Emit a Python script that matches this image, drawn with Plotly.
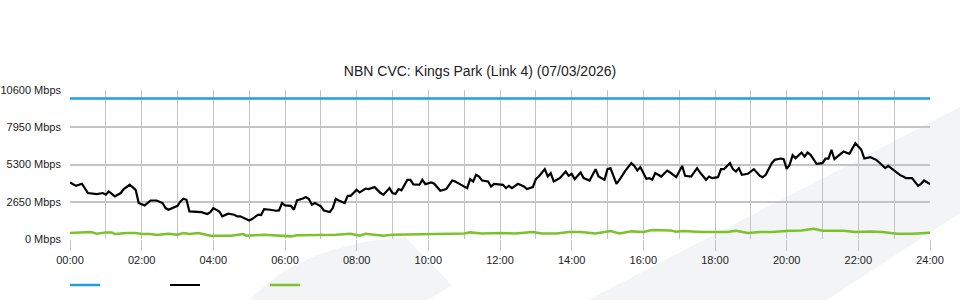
import plotly.graph_objects as go

# ---------------- data ----------------
title_text = "NBN CVC: Kings Park (Link 4) (07/03/2026)"

x_tick_hours = list(range(0, 25, 2))
x_tick_labels = ["00:00", "02:00", "04:00", "06:00", "08:00", "10:00", "12:00",
                 "14:00", "16:00", "18:00", "20:00", "22:00", "24:00"]
y_tick_values = [0, 2650, 5300, 7950, 10600]
y_tick_labels = ["0 Mbps", "2650 Mbps", "5300 Mbps", "7950 Mbps", "10600 Mbps"]

capacity_times = ["00:00", "24:00"]
capacity_values = [10000, 10000]

download_times = [
    "00:00", "00:10", "00:20", "00:30", "00:45", "00:55", "01:00", "01:05", "01:15", "01:25",
    "01:30", "01:40", "01:50", "01:55", "02:05", "02:10", "02:15", "02:25", "02:35", "02:40",
    "02:45", "03:00", "03:05", "03:10", "03:15", "03:20", "03:30", "03:40", "03:50", "03:55",
    "04:00", "04:10", "04:15", "04:25", "04:35", "04:40", "04:45", "04:55", "05:00", "05:05",
    "05:15", "05:20", "05:25", "05:35", "05:45", "05:50", "05:55", "06:00", "06:10", "06:15",
    "06:20", "06:30", "06:35", "06:40", "06:45", "06:50", "07:00", "07:05", "07:15", "07:20",
    "07:25", "07:30", "07:40", "07:45", "07:50", "08:00", "08:05", "08:15", "08:20", "08:30",
    "08:40", "08:45", "08:55", "09:00", "09:05", "09:10", "09:15", "09:25", "09:30", "09:35",
    "09:45", "09:50", "09:55", "10:05", "10:10", "10:20", "10:30", "10:40", "10:45", "10:55",
    "11:05", "11:10", "11:15", "11:20", "11:25", "11:30", "11:40", "11:45", "11:50", "12:05",
    "12:10", "12:15", "12:20", "12:30", "12:40", "12:45", "12:55", "13:00", "13:05", "13:15",
    "13:20", "13:25", "13:30", "13:40", "13:50", "13:55", "14:00", "14:05", "14:15", "14:20",
    "14:30", "14:40", "14:45", "14:55", "15:00", "15:05", "15:15", "15:20", "15:30", "15:40",
    "15:45", "15:50", "15:55", "16:05", "16:10", "16:15", "16:20", "16:30", "16:40", "16:45",
    "16:55", "17:05", "17:10", "17:20", "17:30", "17:35", "17:45", "17:50", "17:55", "18:05",
    "18:10", "18:15", "18:25", "18:30", "18:35", "18:40", "18:45", "18:55", "19:05", "19:15",
    "19:20", "19:25", "19:35", "19:40", "19:50", "19:55", "20:00", "20:05", "20:10", "20:15",
    "20:25", "20:30", "20:35", "20:40", "20:50", "21:00", "21:05", "21:10", "21:15", "21:20",
    "21:30", "21:35", "21:45", "21:55", "22:05", "22:10", "22:20", "22:30", "22:35", "22:45",
    "22:50", "23:00", "23:10", "23:15", "23:20", "23:30", "23:40", "23:45", "23:50", "24:00",
]
download_values = [
    4020, 3780, 3930, 3270, 3200, 3270, 3150, 3380, 3030, 3270,
    3550, 3860, 3500, 2560, 2390, 2600, 2740, 2740, 2560, 2200,
    2080, 2360, 2670, 2860, 2790, 1960, 1930, 1910, 1780, 1910,
    2200, 1960, 1610, 1800, 1730, 1610, 1610, 1420, 1320, 1420,
    1730, 1700, 2130, 2080, 2010, 2030, 2560, 2390, 2360, 2080,
    2740, 2880, 2980, 2840, 2440, 2560, 2320, 2030, 1915, 2200,
    2860, 2740, 2560, 3070, 3070, 3500, 3310, 3590, 3550, 3690,
    3270, 3150, 3620, 3270, 3200, 3550, 3460, 4210, 4210, 3880,
    3860, 4210, 3900, 4020, 3930, 3430, 3550, 4160, 4090, 3850,
    3620, 4260, 4090, 4565, 4445, 4160, 4090, 3735, 3926, 3855,
    3620, 3784, 3620, 3926, 3735, 3550, 3692, 4260, 4445, 4970,
    4445, 4685, 4090, 4330, 4800, 4494, 4636, 4260, 4730, 4330,
    4160, 4970, 4445, 4210, 4970, 5040, 3926, 4210, 4870, 5396,
    5204, 4870, 5112, 4280, 4330, 4210, 4685, 4445, 4870, 4730,
    4400, 5200, 4494, 4445, 5040, 4730, 4210, 4445, 4330, 4400,
    4970, 4970, 5396, 4970, 4800, 5040, 4565, 4636, 4970, 4494,
    4400, 4565, 5396, 5630, 5723, 5676, 4990, 5275, 5964, 5750,
    6150, 5865, 6150, 5985, 5346, 5396, 5723, 5723, 6340, 5676,
    6056, 6220, 6056, 6816, 6340, 5723, 5820, 5630, 5440, 5040,
    5204, 4870, 4543, 4445, 4330, 4330, 3784, 3926, 4160, 3905,
]

upload_times = [
    "00:00", "00:15", "00:35", "00:45", "01:00", "01:10", "01:15", "01:35", "01:50", "02:00",
    "02:15", "02:25", "02:35", "02:45", "03:00", "03:10", "03:20", "03:35", "03:55", "04:30",
    "04:50", "04:55", "05:25", "05:50", "06:10", "06:20", "07:00", "07:25", "07:50", "08:05",
    "08:15", "08:45", "09:00", "09:40", "10:05", "10:40", "11:00", "11:10", "11:30", "12:00",
    "12:25", "12:55", "13:10", "13:35", "13:55", "14:15", "14:40", "15:05", "15:20", "15:40",
    "16:00", "16:15", "16:45", "16:55", "17:05", "17:40", "18:00", "18:20", "18:35", "18:55",
    "19:15", "19:35", "20:05", "20:25", "20:45", "21:00", "21:35", "21:55", "22:20", "22:40",
    "23:05", "23:30", "24:00",
]
upload_values = [
    424, 471, 495, 376, 471, 471, 353, 424, 424, 353,
    353, 282, 305, 376, 305, 424, 353, 424, 234, 234,
    353, 234, 305, 234, 187, 258, 258, 305, 376, 234,
    376, 234, 305, 329, 376, 376, 400, 471, 400, 424,
    400, 495, 400, 400, 495, 495, 400, 566, 400, 542,
    495, 637, 613, 518, 566, 495, 495, 495, 589, 424,
    495, 495, 589, 613, 731, 589, 589, 495, 542, 495,
    376, 376, 447,
]


def to_hours(t):
    h, m = t.split(":")
    return int(h) + int(m) / 60.0


# ---------------- figure ----------------
W, H = 960, 300
ML, MR, MT, MB = 70, 30, 90, 61
PW = W - ML - MR
PH = H - MT - MB


def px(xp):
    return (xp - ML) / PW


def py(yp):
    return (H - MB - yp) / PH


fig = go.Figure()

fig.add_trace(go.Scatter(
    x=[to_hours(t) for t in capacity_times], y=capacity_values,
    mode="lines", name=" ", line=dict(color="#1da1de", width=2.5),
    hoverinfo="skip"))
fig.add_trace(go.Scatter(
    x=[to_hours(t) for t in download_times], y=download_values,
    mode="lines", name=" ", line=dict(color="#000000", width=2.2),
    hoverinfo="skip"))
fig.add_trace(go.Scatter(
    x=[to_hours(t) for t in upload_times], y=upload_values,
    mode="lines", name=" ", line=dict(color="#7cc22c", width=2.5),
    hoverinfo="skip"))

# background watermark shapes (decorative)
wm = "#f3f4f6"
blob = (f"M{px(250)},{py(300)} Q{px(300)},{py(245)} {px(405)},{py(237)} "
        f"L{px(452)},{py(285)} L{px(428)},{py(300)} Z")
band = (f"M{px(588)},{py(300)} L{px(960)},{py(107)} "
        f"L{px(960)},{py(213)} L{px(827)},{py(300)} Z")
for p in (blob, band):
    fig.add_shape(type="path", path=p, xref="paper", yref="paper",
                  fillcolor=wm, line=dict(width=0), layer="below")

grid = "#c4c4c4"
fig.update_layout(
    width=W, height=H,
    margin=dict(l=ML, r=MR, t=MT, b=MB, autoexpand=False),
    paper_bgcolor="white",
    plot_bgcolor="rgba(0,0,0,0)",
    font=dict(family="Liberation Sans, Arial, sans-serif", size=11, color="#222"),
    title=dict(text=title_text, x=0.5, xanchor="center",
               y=1 - 71 / H, yanchor="middle",
               font=dict(size=14, color="#222")),
    showlegend=True,
    legend=dict(orientation="h", x=px(65), xanchor="left",
                yref="container", y=1 - 285 / H, yanchor="middle",
                entrywidth=55, entrywidthmode="pixels",
                font=dict(size=11), bgcolor="rgba(0,0,0,0)"),
    xaxis=dict(
        range=[0, 24], tickmode="array", tickvals=x_tick_hours, ticktext=x_tick_labels,
        showgrid=True, gridcolor=grid, gridwidth=1, automargin=False,
        ticks="outside", ticklen=11, tickcolor=grid, tickwidth=1,
        minor=dict(tickmode="array", tickvals=list(range(25)), showgrid=True,
                   gridcolor=grid, gridwidth=1, ticks=""),
        zeroline=False, showline=False, fixedrange=True,
    ),
    yaxis=dict(
        range=[0, 10600], tickmode="array", tickvals=y_tick_values, ticktext=y_tick_labels,
        showgrid=True, gridcolor=grid, gridwidth=2, automargin=False,
        ticks="", ticklabelstandoff=8,
        zeroline=False, showline=False, fixedrange=True,
    ),
)

fig.write_html("out.html")
